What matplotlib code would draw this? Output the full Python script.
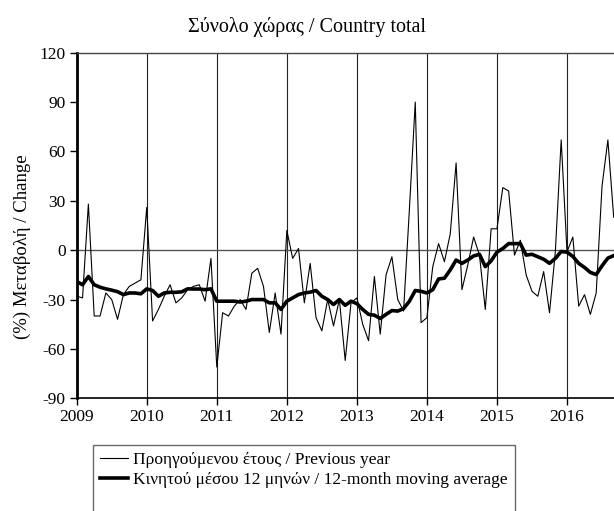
import numpy as np
import matplotlib
matplotlib.use('Agg')
import matplotlib.pyplot as plt

plt.rcParams['font.family'] = ['Liberation Serif', 'DejaVu Serif']
plt.rcParams['axes.unicode_minus'] = False

# monthly values, Jan 2009 .. Sep 2016
previous_year = [
    -28, -29, 28, -40, -40, -26, -30, -42, -27, -22, -20, -18,      # 2009
    26, -43, -36, -28, -21, -32, -29, -24, -22, -21, -31, -5,       # 2010
    -71, -38, -40, -34, -30, -36, -14, -11, -22, -50, -26, -51,     # 2011
    12, -5, 1, -32, -8, -41, -49, -30, -46, -30, -67, -32,          # 2012
    -29, -45, -55, -16, -51, -15, -4, -30, -37, 25, 90, -44,        # 2013
    -41, -10, 4, -7, 10, 53, -24, -9, 8, -3, -36, 13,               # 2014
    13, 38, 36, -3, 6, -15, -25, -28, -13, -38, -1, 67,             # 2015
    -1, 8, -34, -27, -39, -26, 39, 67, 20,                          # 2016
]
moving_avg = [
    -19, -21, -16, -21, -22.5, -23.5, -24.3, -25.2, -27, -26, -26, -26.5,
    -23.5, -24.5, -28, -26, -25.6, -25.6, -25.3, -23.5, -23.6, -23.6, -24, -23.5,
    -31, -31, -31, -31, -31.5, -31, -30, -30, -30, -32, -32, -36,
    -31, -29, -27, -26, -25.5, -24.5, -28, -30, -33, -30, -33.5, -31,
    -32.5, -36, -39, -39.5, -41.5, -39, -36.7, -37, -35.5, -31, -24.5, -25,
    -26, -24, -17.5, -17, -12, -6, -8, -6, -3.5, -2.5, -10, -6.5,
    -1.2, 1, 4, 4, 4, -3, -2.5, -4, -5.5, -8, -5, -0.8,
    -1.2, -3.8, -8, -10.5, -13.5, -14.8, -9.5, -4.8, -3.3,
]
years = ['2009', '2010', '2011', '2012', '2013', '2014', '2015', '2016']
y_ticks = [-90, -60, -30, 0, 30, 60, 90, 120]

months = np.arange(len(previous_year))

fig = plt.figure(figsize=(6.14, 5.11), dpi=100)
ax = fig.add_axes([76.7 / 614, 1 - 398.3 / 511, 1 - 76.7 / 614, (398.3 - 52.7) / 511])

for i in range(1, len(years)):
    ax.axvline(12 * i, color='#222222', lw=0.8, zorder=1)
ax.axhline(0, color='#555555', lw=1.0, zorder=1)

ax.plot(months, previous_year, color='black', lw=0.8, zorder=3,
        label='Προηγούμενου έτους / Previous year')
ax.plot(months, moving_avg, color='black', lw=2.6, zorder=4,
        label='Κινητού μέσου 12 μηνών / 12-month moving average')

ax.set_xlim(0, 92.05)
ax.set_ylim(-90, 120)
ax.set_yticks(y_ticks)
ax.set_xticks(np.arange(0, 12 * len(years), 12))
ax.set_xticklabels(years)
ax.tick_params(axis='both', labelsize=12.5, direction='out', length=5,
               width=1, color='black', pad=3)
ax.spines['right'].set_visible(False)
ax.spines['left'].set_linewidth(2)
ax.spines['bottom'].set_linewidth(1.2)
ax.spines['top'].set_linewidth(1.0)
ax.spines['top'].set_color('#444444')

ax.set_ylabel('(%) Μεταβολή / Change', fontsize=13.5)
ax.yaxis.set_label_coords(-0.085, 0.44)

fig.text(0.5, 1 - 27 / 511, 'Σύνολο χώρας / Country total', ha='center',
         va='center', fontsize=14.5)

# blank third row so the box runs off the bottom edge like the original
handles, labels = ax.get_legend_handles_labels()
handles.append(plt.Line2D([], [], color='none'))
labels.append(' ')
fig.legend(handles, labels, loc='upper left',
           bbox_to_anchor=(93 / 614, 1 - 445 / 511),
           fontsize=12.5, frameon=True, fancybox=False, edgecolor='#444444',
           handlelength=1.6, handletextpad=0.3, borderpad=0.4,
           labelspacing=0.2, borderaxespad=0)

fig.savefig('out.png', dpi=100)
